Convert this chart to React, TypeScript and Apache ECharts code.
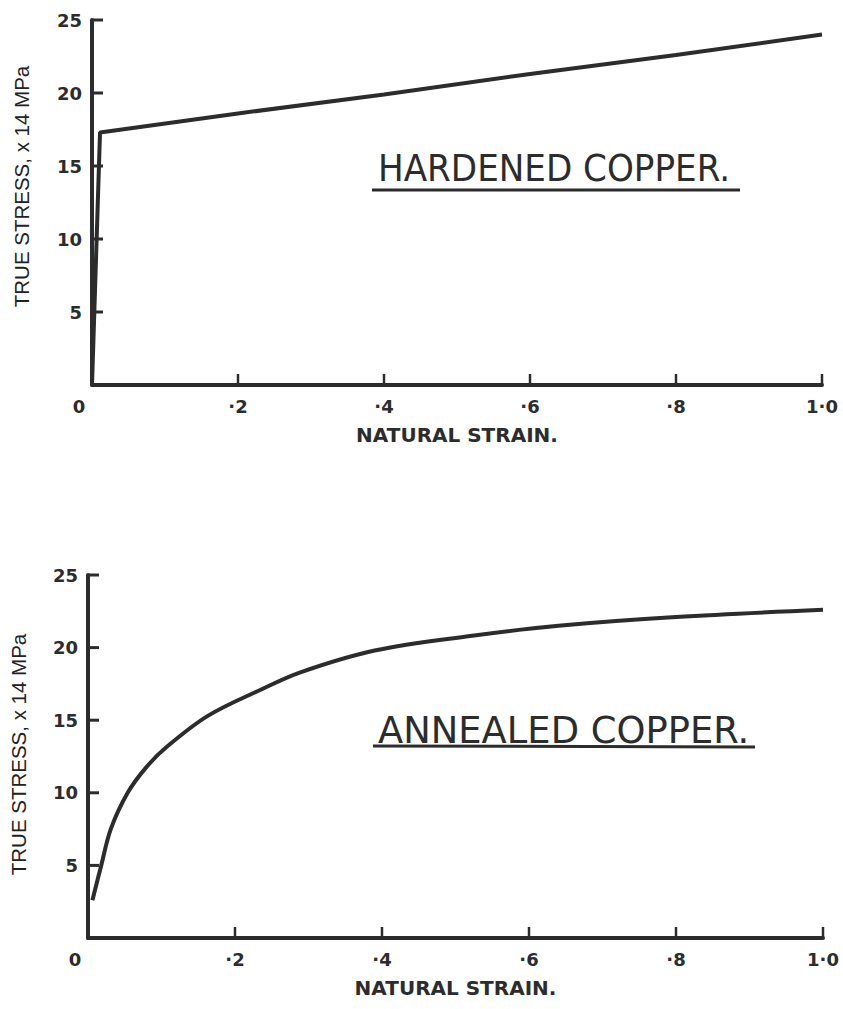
import React, { useEffect, useRef } from "react";
import * as echarts from "echarts";

// ---- data ----
const strainTicks = [0, 0.2, 0.4, 0.6, 0.8, 1.0];
const xTickLabels = ["0", "·2", "·4", "·6", "·8", "1·0"];
const stressTicks = [0, 5, 10, 15, 20, 25];
const stressTickLabels = ["", "5", "10", "15", "20", "25"];

const hardenedStrain = [0, 0.011, 0.2, 0.4, 0.6, 0.8, 1.0];
const hardenedStress = [0, 17.3, 18.6, 19.9, 21.3, 22.6, 24.0];

const annealedStrain = [0.006, 0.018, 0.031, 0.054, 0.08, 0.108, 0.163, 0.235, 0.289, 0.39, 0.52, 0.64, 0.8, 1.0];
const annealedStress = [2.6, 5.0, 7.5, 10.0, 11.8, 13.2, 15.3, 17.1, 18.3, 19.8, 20.8, 21.5, 22.1, 22.6];

const yName = "TRUE STRESS, x 14 MPa";
const xName = "NATURAL STRAIN.";
const titles = ["HARDENED COPPER.", "ANNEALED COPPER."];

const INK = "#2c2c2c";
const X_MIN = strainTicks[0];
const X_MAX = strainTicks[strainTicks.length - 1];

function xAxisCfg(gridIndex: number) {
  return {
    type: "value",
    gridIndex,
    min: X_MIN,
    max: X_MAX,
    interval: 0.2,
    name: xName,
    nameLocation: "middle",
    nameGap: 40,
    nameTextStyle: { fontFamily: "DejaVu Sans", fontWeight: "bold", fontSize: 20, color: INK },
    axisLine: { show: true, onZero: false, lineStyle: { color: INK, width: 4 } },
    axisTick: { show: false },
    splitLine: { show: false },
    axisLabel: {
      margin: 12,
      fontFamily: "DejaVu Sans",
      fontWeight: "bold",
      fontSize: 18,
      color: INK,
      formatter: (v: number) => {
        const i = Math.round(v / 0.2);
        return i === 0 ? "{z|" + xTickLabels[0] + "}" : xTickLabels[i];
      },
      rich: {
        z: { fontFamily: "DejaVu Sans", fontWeight: "bold", fontSize: 18, color: INK, padding: [0, 26, 0, 0] },
      },
    },
  };
}

function yAxisCfg(gridIndex: number, nameGap: number, pad: number[]) {
  return {
    type: "value",
    gridIndex,
    min: stressTicks[0],
    max: stressTicks[stressTicks.length - 1],
    interval: 5,
    name: yName,
    nameLocation: "middle",
    nameGap,
    nameTextStyle: { fontFamily: "Liberation Sans", fontSize: 20.5, color: "#222", padding: pad },
    axisLine: { show: true, onZero: false, lineStyle: { color: INK, width: 4 } },
    axisTick: { show: false },
    splitLine: { show: false },
    axisLabel: {
      margin: 10,
      fontFamily: "DejaVu Sans",
      fontWeight: "bold",
      fontSize: 18,
      color: INK,
      formatter: (v: number) => stressTickLabels[Math.round(v / 5)],
    },
  };
}

export default function App() {
  const ref = useRef<HTMLDivElement>(null);
  useEffect(() => {
    if (!ref.current) return;
    const chart = echarts.init(ref.current, null, { renderer: "svg" });
    const hardened = hardenedStrain.map((x, i) => [x, hardenedStress[i]]);
    const annealed = annealedStrain.map((x, i) => [x, annealedStress[i]]);
    chart.setOption({
      animation: false,
      backgroundColor: "#ffffff",
      grid: [
        { left: 92, top: 20, width: 730, height: 365 },
        { left: 87, top: 575, width: 736, height: 363 },
      ],
      xAxis: [xAxisCfg(0), xAxisCfg(1)],
      yAxis: [yAxisCfg(0, 60, [0, 0, 0, 32]), yAxisCfg(1, 59, [0, 0, 0, 4])],
      series: [
        {
          type: "line",
          xAxisIndex: 0,
          yAxisIndex: 0,
          data: hardened,
          symbol: "none",
          lineStyle: { color: INK, width: 4 },
        },
        {
          type: "line",
          xAxisIndex: 1,
          yAxisIndex: 1,
          data: annealed,
          symbol: "none",
          smooth: 0.35,
          lineStyle: { color: INK, width: 4 },
        },
      ],
    });

    // inward tick marks, positioned through the axes' own scales
    const ticks: any[] = [];
    [0, 1].forEach((g) => {
      strainTicks.slice(1).forEach((s) => {
        const p = chart.convertToPixel({ gridIndex: g }, [s, 0]) as number[];
        if (!p) return;
        ticks.push({
          type: "line",
          shape: { x1: p[0], y1: p[1] - 11, x2: p[0], y2: p[1] - 1 },
          style: { stroke: INK, lineWidth: 2.5 },
        });
      });
      stressTicks.slice(1).forEach((s) => {
        const p = chart.convertToPixel({ gridIndex: g }, [0, s]) as number[];
        if (!p) return;
        ticks.push({
          type: "line",
          shape: { x1: p[0] + 1, y1: p[1], x2: p[0] + 11, y2: p[1] },
          style: { stroke: INK, lineWidth: 3 },
        });
      });
    });

    chart.setOption({
      graphic: [
        {
          type: "text",
          x: 378,
          y: 168,
          scaleX: 0.9,
          style: {
            text: titles[0],
            fontFamily: "DejaVu Sans",
            fontSize: 38,
            fill: INK,
            textVerticalAlign: "middle",
          },
        },
        { type: "line", shape: { x1: 372, y1: 190, x2: 740, y2: 190 }, style: { stroke: INK, lineWidth: 3 } },
        {
          type: "text",
          x: 378,
          y: 730,
          scaleX: 0.97,
          style: {
            text: titles[1],
            fontFamily: "DejaVu Sans",
            fontSize: 38,
            fill: INK,
            textVerticalAlign: "middle",
          },
        },
        { type: "line", shape: { x1: 373, y1: 746, x2: 755, y2: 747 }, style: { stroke: INK, lineWidth: 3 } },
        ...ticks,
      ],
    });
    return () => chart.dispose();
  }, []);
  return (
    <div
      ref={ref}
      style={{ position: "absolute", left: 0, top: 0, width: 843, height: 1009, background: "#fff" }}
    />
  );
}
